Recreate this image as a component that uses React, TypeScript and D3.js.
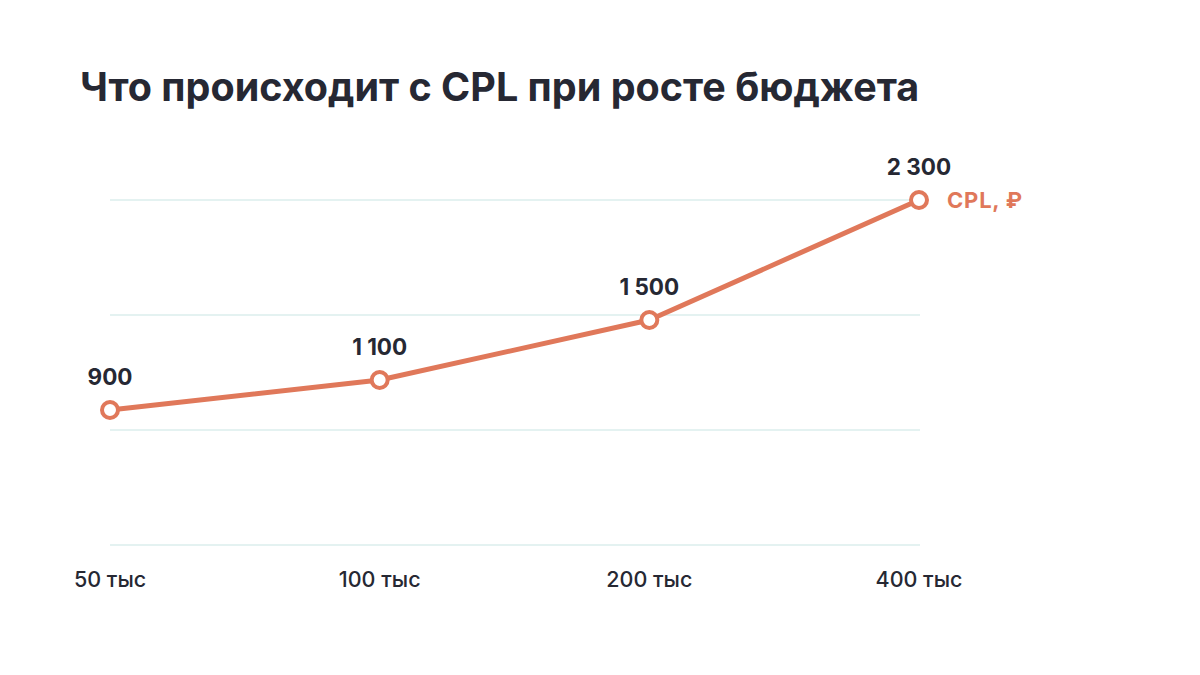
import React from "react";
import * as d3 from "d3";

const categories = ["50 тыс", "100 тыс", "200 тыс", "400 тыс"];
const values = [900, 1100, 1500, 2300];
const valueLabels = ["900", "1 100", "1 500", "2 300"];
const gridValues = [0, 2300 / 3, (2300 * 2) / 3, 2300];
const title = "Что происходит с CPL при росте бюджета";
const seriesName = "CPL, ₽";

const W = 1200;
const H = 675;
const ORANGE = "#E0785A";
const DARK = "#262833";
const GRID = "#E4F2F1";
const FONT = "Inter, 'Noto Sans', sans-serif";

export default function App() {
  const x = d3.scalePoint<string>().domain(categories).range([110, 919]);
  const y = d3.scaleLinear().domain([0, 2300]).range([545, 200]);
  const line = d3
    .line<number>()
    .x((_, i) => x(categories[i])!)
    .y((d) => y(d));

  const lastX = x(categories[categories.length - 1])!;
  const lastY = y(values[values.length - 1]);

  return (
    <svg
      width={W}
      height={H}
      style={{ position: "absolute", left: 0, top: 0, background: "#fff" }}
      fontFamily={FONT}
    >
      <text x={80} y={101} fontSize={39.5} fontWeight={700} fill={DARK}>
        {title}
      </text>
      {gridValues.map((g, i) => (
        <line
          key={i}
          x1={110}
          x2={920}
          y1={y(g)}
          y2={y(g)}
          stroke={GRID}
          strokeWidth={2}
        />
      ))}
      <path d={line(values) || ""} fill="none" stroke={ORANGE} strokeWidth={5} strokeLinejoin="round" />
      {values.map((v, i) => (
        <circle
          key={i}
          cx={x(categories[i])}
          cy={y(v)}
          r={8}
          fill="#fff"
          stroke={ORANGE}
          strokeWidth={4}
        />
      ))}
      {values.map((v, i) => (
        <text
          key={i}
          x={x(categories[i])}
          y={y(v) - 25}
          textAnchor="middle"
          fontSize={22.5}
          fontWeight={700}
          fill={DARK}
          style={{ whiteSpace: "pre" }}
        >
          {valueLabels[i]}
        </text>
      ))}
      {categories.map((c, i) => (
        <text
          key={i}
          x={x(c)}
          y={587}
          textAnchor="middle"
          fontSize={21.5}
          fontWeight={500}
          fill={DARK}
        >
          {c}
        </text>
      ))}
      <text x={lastX + 28} y={lastY + 8} fontSize={22} fontWeight={700} fill={ORANGE} letterSpacing={0.8}>
        {seriesName}
      </text>
    </svg>
  );
}
